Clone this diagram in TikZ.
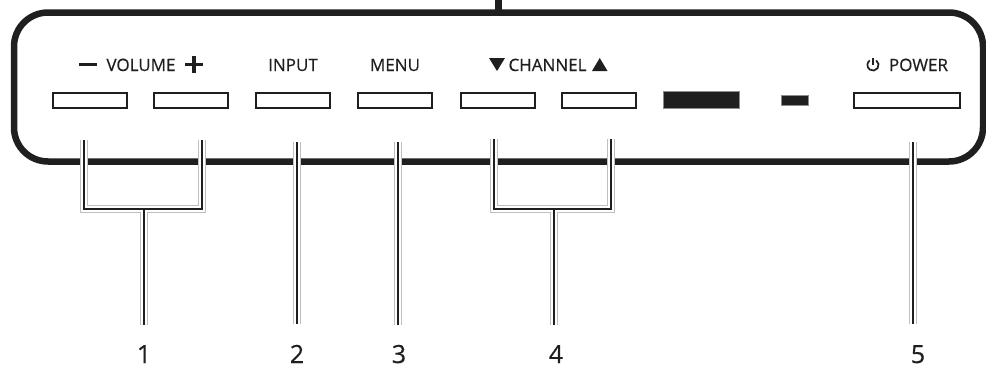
\documentclass[tikz,border=0pt]{standalone}
\usepackage{fontspec}
\setmainfont{Open Sans}[BoldFont=*,BoldFeatures={FakeBold=0.5}]
\begin{document}
\begin{tikzpicture}[x=1pt,y=-1pt,
  panel/.style={line width=6.5pt,draw=black!88,rounded corners=34pt},
  btn/.style={draw=black!88,line width=2pt,fill=white},
  darkbtn/.style={draw=black!45,line width=0.8pt,fill=black!88},
  lbl/.style={inner sep=0pt,anchor=base,font=\fontsize{17}{20}\selectfont\bfseries,text=black!88},
  num/.style={inner sep=0pt,anchor=base,font=\fontsize{25}{28}\selectfont\bfseries,text=black!88},
  halo/.style={draw=black!25,line width=7.5pt},
  haloin/.style={draw=white,line width=5.5pt},
  lead/.style={draw=black!88,line width=2.6pt},
  symfill/.style={fill=black!88}
]
\useasboundingbox (0,0) rectangle (986,370);
% panel
\draw[panel] (14,12.5) rectangle (983,161.5);
\coordinate (stubtop) at (498,0);
\coordinate (stubbot) at (498,12.5);
\draw[draw=black!88,line width=7pt] (stubtop) -- (stubbot);

% buttons
\node[btn,minimum width=74pt,minimum height=15pt,inner sep=0pt] (volm) at (90,100) {};
\node[btn,minimum width=74pt,minimum height=15pt,inner sep=0pt] (volp) at (191,100) {};
\node[btn,minimum width=74pt,minimum height=15pt,inner sep=0pt] (inp) at (293,100) {};
\node[btn,minimum width=74pt,minimum height=15pt,inner sep=0pt] (menu) at (395,100) {};
\node[btn,minimum width=74pt,minimum height=15pt,inner sep=0pt] (chd) at (498,100) {};
\node[btn,minimum width=74pt,minimum height=15pt,inner sep=0pt] (chu) at (599,100) {};
\node[darkbtn,minimum width=76pt,minimum height=17pt,inner sep=0pt] (sensor) at (701,100) {};
\node[darkbtn,minimum width=27pt,minimum height=10pt,inner sep=0pt] (led) at (795,100) {};
\node[btn,minimum width=106pt,minimum height=15pt,inner sep=0pt] (pwr) at (907,100) {};

% labels
\fill[symfill] (79,62.6) rectangle (97,66.2);
\node[lbl] (vol) at (141,71) {VOLUME};
\fill[symfill] (185,62.6) rectangle (202.5,66.2);
\fill[symfill] (191.95,55.6) rectangle (195.55,73.2);
\node[lbl] (inlbl) at (293,71) {INPUT};
\node[lbl] (menulbl) at (395,71) {MENU};
\fill[symfill] (489,58) -- (505,58) -- (497,71) -- cycle;
\node[lbl] (chlbl) at (547.5,71) {CHANNEL};
\fill[symfill] (592,71) -- (607.5,71) -- (599.75,58) -- cycle;
\node[lbl] (pwrlbl) at (918.5,71) {POWER};
% power symbol
\draw[black!88,line width=1.7pt] (873,65) ++(-55:5.6) arc[start angle=-55,end angle=235,radius=5.6];
\draw[black!88,line width=1.7pt] (873,57.5) -- (873,65);

% numbers
\node[num] (n1) at (144,363) {1};
\node[num] (n2) at (297,363) {2};
\node[num] (n3) at (399,363) {3};
\node[num] (n4) at (556,363) {4};
\node[num] (n5) at (918,363) {5};

% leader coordinates
\coordinate (v1) at (84,140);
\coordinate (v2) at (202,140);
\coordinate (v1b) at (84,209);
\coordinate (v2b) at (202,209);
\coordinate (vm) at (144,209);
\coordinate (vmb) at (144,325);
\coordinate (i1) at (297,142);
\coordinate (i1b) at (297,324);
\coordinate (m1) at (398,142);
\coordinate (m1b) at (398,325);
\coordinate (c1) at (494,139);
\coordinate (c2) at (611,139);
\coordinate (c1b) at (494,209);
\coordinate (c2b) at (611,209);
\coordinate (cm) at (554,209);
\coordinate (cmb) at (554,325);
\coordinate (p1) at (913,142);
\coordinate (p1b) at (913,324);

\foreach \st in {halo,haloin,lead}{
  \draw[\st] (v1) -- (v1b) -- (v2b) -- (v2);
  \draw[\st] (vm) -- (vmb);
  \draw[\st] (i1) -- (i1b);
  \draw[\st] (m1) -- (m1b);
  \draw[\st] (c1) -- (c1b) -- (c2b) -- (c2);
  \draw[\st] (cm) -- (cmb);
  \draw[\st] (p1) -- (p1b);
}
\end{tikzpicture}
\end{document}
